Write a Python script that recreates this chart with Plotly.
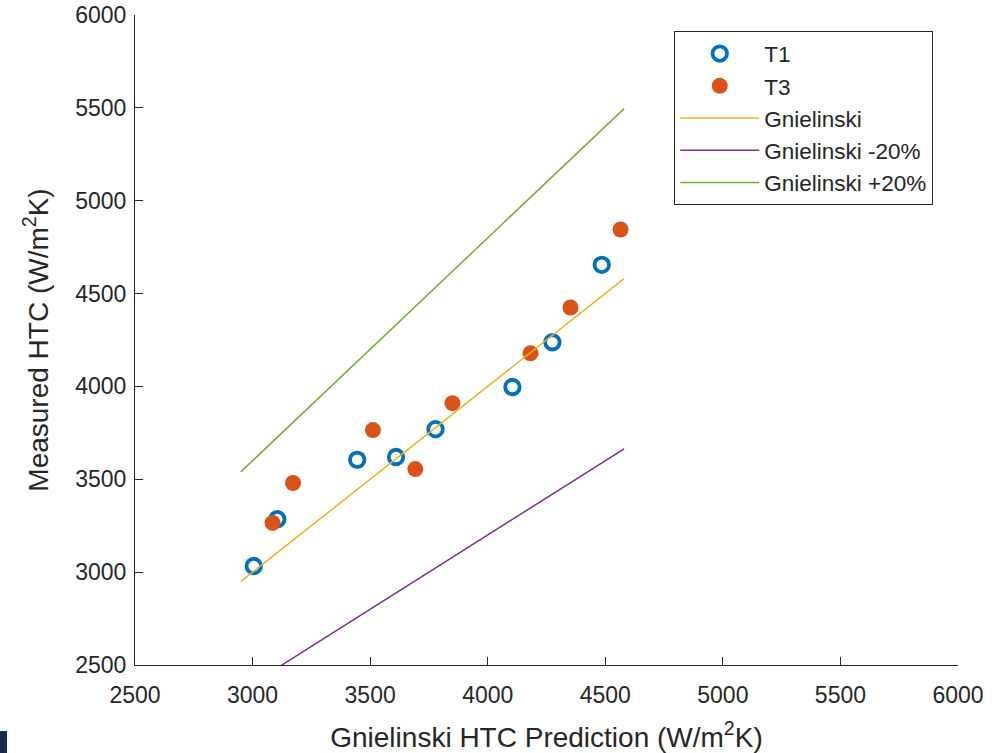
import plotly.graph_objects as go

# T1 data (Gnielinski prediction, measured HTC)
t1_pred = [3005, 3105, 3445, 3610, 3778, 4105, 4275, 4485]
t1_meas = [3033, 3285, 3605, 3620, 3770, 3997, 4238, 4655]

# T3 data
t3_pred = [3085, 3172, 3512, 3692, 3850, 4182, 4352, 4565]
t3_meas = [3265, 3480, 3765, 3555, 3910, 4178, 4425, 4845]

# Gnielinski reference line range
gn_x = [2950, 4580]
gn_y = [2950, 4580]
gn_minus = [v * 0.8 for v in gn_y]
gn_plus = [v * 1.2 for v in gn_y]

x_ticks = [2500, 3000, 3500, 4000, 4500, 5000, 5500, 6000]
y_ticks = [2500, 3000, 3500, 4000, 4500, 5000, 5500, 6000]

font_family = "Liberation Sans, Arial, sans-serif"
axis_color = "#262626"

fig = go.Figure()
fig.add_trace(go.Scatter(
    x=t1_pred, y=t1_meas, mode="markers", name="T1", legendgroup="a",
    marker=dict(symbol="circle-open", size=14.5, color="#0072BD",
                line=dict(width=3.8, color="#0072BD")),
))
fig.add_trace(go.Scatter(
    x=t3_pred, y=t3_meas, mode="markers", name="T3", legendgroup="b",
    marker=dict(symbol="circle", size=16, color="#D95319"),
))
fig.add_trace(go.Scatter(
    x=gn_x, y=gn_y, mode="lines", name="Gnielinski", legendgroup="c",
    line=dict(color="#EDB120", width=1.5),
))
fig.add_trace(go.Scatter(
    x=gn_x, y=gn_minus, mode="lines", name="Gnielinski -20%", legendgroup="d",
    line=dict(color="#7E2F8E", width=1.5),
))
fig.add_trace(go.Scatter(
    x=gn_x, y=gn_plus, mode="lines", name="Gnielinski +20%", legendgroup="e",
    line=dict(color="#77AC30", width=1.5),
))

fig.update_layout(
    width=1002, height=753,
    margin=dict(l=135, r=44, t=15, b=88),
    paper_bgcolor="white", plot_bgcolor="white",
    font=dict(family=font_family, size=23, color=axis_color),
    showlegend=True,
    legend=dict(
        x=0.655, y=0.975, xanchor="left", yanchor="top",
        bgcolor="white", bordercolor=axis_color, borderwidth=1.2,
        font=dict(size=22.5, color=axis_color),
        tracegroupgap=0, itemwidth=79,
    ),
    xaxis=dict(
        range=[2500, 6000], tickvals=x_ticks, ticktext=[str(v) for v in x_ticks],
        ticks="inside", ticklen=8, tickcolor=axis_color, tickwidth=1,
        showline=True, linecolor=axis_color, linewidth=1.2,
        showgrid=False, zeroline=False, mirror=False, automargin=False,
        ticklabelstandoff=9,
        tickfont=dict(size=23, color=axis_color),
        title=dict(text="Gnielinski HTC Prediction (W/m<sup>2</sup>K)",
                   font=dict(size=28, color=axis_color), standoff=24),
    ),
    yaxis=dict(
        range=[2500, 6000], tickvals=y_ticks, ticktext=[str(v) for v in y_ticks],
        ticks="inside", ticklen=8, tickcolor=axis_color, tickwidth=1,
        showline=True, linecolor=axis_color, linewidth=1.2,
        showgrid=False, zeroline=False, mirror=False, automargin=False,
        ticklabelstandoff=3,
        tickfont=dict(size=23, color=axis_color),
        title=dict(text="Measured HTC (W/m<sup>2</sup>K)",
                   font=dict(size=28, color=axis_color), standoff=18),
    ),
    shapes=[dict(type="rect", xref="paper", yref="paper",
                 x0=-135/823, x1=-128/823, y0=-88/650, y1=-66/650,
                 fillcolor="#1b2a4a", line=dict(width=0), layer="above")],
)

fig.write_html("out.html", config={"displayModeBar": False},
               post_script="document.body.style.margin='0';document.body.style.padding='0';")
